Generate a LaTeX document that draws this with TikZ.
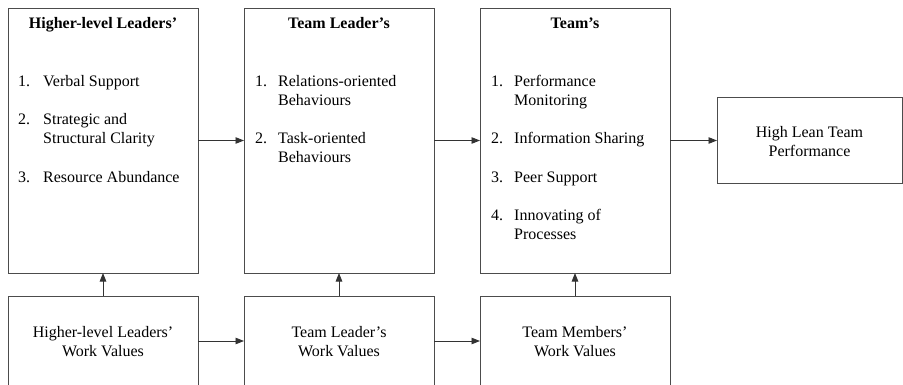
\documentclass[tikz,border=0pt]{standalone}
\usepackage{fontspec}
\setmainfont{Liberation Serif}
\usetikzlibrary{arrows.meta}
\begin{document}
\begin{tikzpicture}[x=1pt,y=-1pt,
  box/.style={draw=black!70,line width=0.9pt,inner sep=0pt,outer sep=0pt},
  bigbox/.style={box,minimum width=190pt,minimum height=265pt},
  lowbox/.style={box,minimum width=190pt,minimum height=90pt},
  txt/.style={inner sep=0pt,font=\fontsize{16}{19}\selectfont,text=black},
  lft/.style={txt,anchor=base west},
  ctr/.style={txt,anchor=base},
  ttl/.style={ctr,font=\fontsize{16}{19}\selectfont\bfseries},
  arr/.style={draw=black!80,line width=0.9pt,-{Triangle[length=8.5pt,width=6.5pt]}}
]
\useasboundingbox (0,0) rectangle (903,384);
% boxes
\node[bigbox] (hl) at (103,140.5) {};
\node[bigbox] (tl) at (339,140.5) {};
\node[bigbox] (tm) at (575,140.5) {};
\node[box,minimum width=185pt,minimum height=86pt] (perf) at (809.5,140.5) {};
\node[lowbox] (hv) at (103,341) {};
\node[lowbox] (tv) at (339,341) {};
\node[lowbox] (mv) at (575,341) {};
% box 1 text
\node[ttl] (hlt) at (103,28) {Higher-level Leaders’};
\node[lft] (hl1n) at (18,86) {1.};
\node[lft] (hl1) at (43,86) {Verbal Support};
\node[lft] (hl2n) at (18,124) {2.};
\node[lft] (hl2a) at (43,124) {Strategic and};
\node[lft] (hl2b) at (43,143) {Structural Clarity};
\node[lft] (hl3n) at (18,182) {3.};
\node[lft] (hl3) at (43,182) {Resource Abundance};
% box 2 text
\node[ttl] (tlt) at (339,28) {Team Leader’s};
\node[lft] (tl1n) at (255,86) {1.};
\node[lft] (tl1a) at (278,86) {Relations-oriented};
\node[lft] (tl1b) at (278,105) {Behaviours};
\node[lft] (tl2n) at (255,143) {2.};
\node[lft] (tl2a) at (278,143) {Task-oriented};
\node[lft] (tl2b) at (278,162) {Behaviours};
% box 3 text
\node[ttl] (tmt) at (575,28) {Team’s};
\node[lft] (tm1n) at (491,86) {1.};
\node[lft] (tm1a) at (514,86) {Performance};
\node[lft] (tm1b) at (514,105) {Monitoring};
\node[lft] (tm2n) at (491,143) {2.};
\node[lft] (tm2) at (514,143) {Information Sharing};
\node[lft] (tm3n) at (491,182) {3.};
\node[lft] (tm3) at (514,182) {Peer Support};
\node[lft] (tm4n) at (491,220) {4.};
\node[lft] (tm4a) at (514,220) {Innovating of};
\node[lft] (tm4b) at (514,239) {Processes};
% box 4 text
\node[ctr] (pa) at (809.5,137) {High Lean Team};
\node[ctr] (pb) at (809.5,156) {Performance};
% bottom texts
\node[ctr] (hva) at (103,337) {Higher-level Leaders’};
\node[ctr] (hvb) at (103,356) {Work Values};
\node[ctr] (tva) at (339,337) {Team Leader’s};
\node[ctr] (tvb) at (339,356) {Work Values};
\node[ctr] (mva) at (575,337) {Team Members’};
\node[ctr] (mvb) at (575,356) {Work Values};
% arrows
\draw[arr] (hl) -- (tl);
\draw[arr] (tl) -- (tm);
\draw[arr] (tm) -- (perf);
\draw[arr] (hv) -- (hl);
\draw[arr] (tv) -- (tl);
\draw[arr] (mv) -- (tm);
\draw[arr] (hv) -- (tv);
\draw[arr] (tv) -- (mv);
\end{tikzpicture}
\end{document}
